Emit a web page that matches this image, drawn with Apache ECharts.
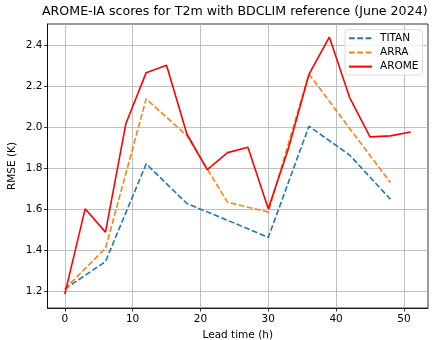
<!DOCTYPE html>
<html>
<head>
<meta charset="utf-8">
<script src="https://cdn.jsdelivr.net/npm/echarts@6/dist/echarts.min.js"></script>
<style>html,body{margin:0;padding:0;background:#fff}#c{width:434px;height:340px}</style>
</head>
<body>
<div id="c"></div>
<script>
const aromeHours = [0,3,6,9,12,15,18,21,24,27,30,33,36,39,42,45,48,51];
const aromeRmse  = [1.185,1.602,1.488,2.018,2.268,2.304,1.968,1.794,1.877,1.903,1.603,1.900,2.260,2.442,2.146,1.954,1.959,1.978];
const titanHours = [0,6,12,18,24,30,36,42,48];
const titanRmse  = [1.210,1.344,1.822,1.628,1.546,1.462,2.006,1.865,1.649];
const arraHours  = [0,6,12,18,24,30,36,42,48];
const arraRmse   = [1.210,1.409,2.140,1.960,1.634,1.586,2.262,1.995,1.731];
const xTicks = [0,10,20,30,40,50];
const yTicks = [1.2,1.4,1.6,1.8,2.0,2.2,2.4];

const zip = (a,b) => a.map((v,i)=>[v,b[i]]);
const font = 'DejaVu Sans';
const chart = echarts.init(document.getElementById('c'), null, {renderer:'canvas'});
const axisLine = {show:true,onZero:false,lineStyle:{color:'#000',width:0.8}};
const splitLine = {show:true,lineStyle:{color:'#b0b0b0',width:0.8}};
const nameTextStyle = {fontFamily:font,fontSize:10.5,color:'#000'};
const dash = [5.8,2.5];
chart.setOption({
  animation:false,
  title:{text:'AROME-IA scores for T2m with BDCLIM reference (June 2024)',left:42,top:5,padding:0,
    textStyle:{fontFamily:font,fontSize:12.6,fontWeight:'normal',color:'#000'}},
  grid:{left:47.5,right:6,top:24,bottom:32,show:true,borderColor:'#000',borderWidth:0.8,backgroundColor:'transparent',
    containLabel:false,outerBoundsMode:'none'},
  legend:{left:345,top:29.7,orient:'vertical',itemWidth:23,itemHeight:12,itemGap:3.2,
    padding:[3,4,3,3],backgroundColor:'rgba(255,255,255,0.8)',borderColor:'#d0d0d0',borderWidth:0.8,borderRadius:3,
    itemStyle:{opacity:0},
    textStyle:{fontFamily:font,fontSize:10.5,color:'#000',padding:[0,0,0,3]},
    data:['TITAN','ARRA','AROME']},
  xAxis:{type:'value',min:-2.55,max:53.55,name:'Lead time (h)',nameLocation:'middle',nameGap:22,
    nameTextStyle:nameTextStyle,axisLine:axisLine,splitLine:splitLine,
    axisLabel:{customValues:xTicks,fontFamily:font,fontSize:10.5,color:'#000',margin:6},
    axisTick:{show:true,customValues:xTicks,inside:false,length:3.5,lineStyle:{color:'#000',width:0.8}}},
  yAxis:{type:'value',min:1.117,max:2.506,name:'RMSE (K)',nameLocation:'middle',nameGap:30,nameMoveOverlap:false,
    nameTextStyle:nameTextStyle,axisLine:axisLine,splitLine:splitLine,
    axisLabel:{customValues:yTicks,fontFamily:font,fontSize:10.5,color:'#000',margin:5,formatter:v=>v.toFixed(1)},
    axisTick:{show:true,customValues:yTicks,inside:false,length:3.5,lineStyle:{color:'#000',width:0.8}}},
  series:[
    {name:'TITAN',type:'line',data:zip(titanHours,titanRmse),symbol:'none',color:'#1f77b4',
      lineStyle:{color:'#1f77b4',width:1.6,type:dash}},
    {name:'ARRA',type:'line',data:zip(arraHours,arraRmse),symbol:'none',color:'#ff7f0e',
      lineStyle:{color:'#ff7f0e',width:1.6,type:dash}},
    {name:'AROME',type:'line',data:zip(aromeHours,aromeRmse),symbol:'none',color:'#ff0000',
      lineStyle:{color:'#ff0000',width:1.6}}
  ]
});
</script>
</body>
</html>
